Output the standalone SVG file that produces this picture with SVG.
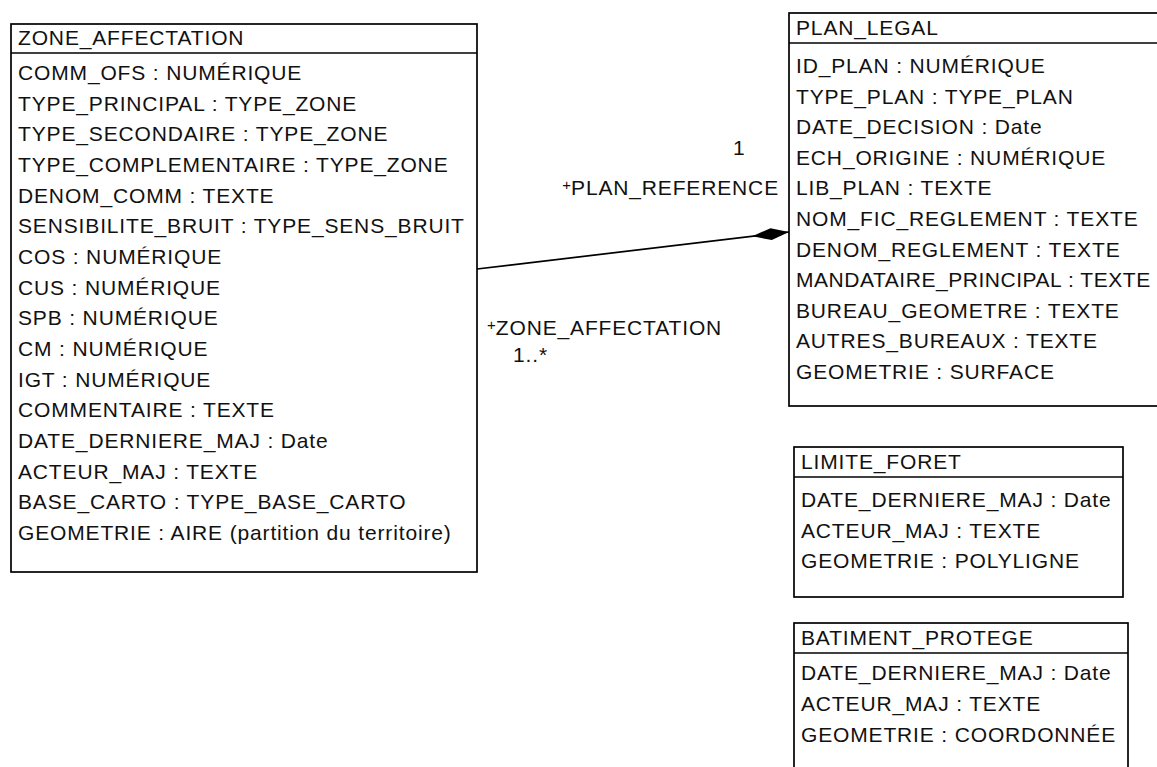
<svg xmlns="http://www.w3.org/2000/svg" width="1157" height="767" viewBox="0 0 1157 767">
<style>
.box{fill:#fff;stroke:#000;stroke-width:1.7}
.sep{stroke:#000;stroke-width:1.7}
text{font-family:"Liberation Sans",Arial,sans-serif;font-size:21px;letter-spacing:0.85px;fill:#111}
.plus{font-size:15px;letter-spacing:0}
.conn{stroke:#000;stroke-width:1.7;fill:none}
</style>
<defs>
<marker id="comp" markerUnits="userSpaceOnUse" markerWidth="44" markerHeight="20" viewBox="-40 -10 44 20" refX="0" refY="0" orient="auto">
<path d="M0,0 L-18,-6 L-37,0 L-18,6 Z" fill="#000"/>
</marker>
</defs>
<rect width="1157" height="767" fill="#fff"/>
<g id="zone_affectation">
<rect class="box" x="11" y="24" width="466" height="548"/>
<line class="sep" x1="11" y1="53" x2="477" y2="53"/>
<text x="18" y="45">ZONE_AFFECTATION</text>
<text x="18" y="80">COMM_OFS : NUMÉRIQUE</text>
<text x="18" y="110.7">TYPE_PRINCIPAL : TYPE_ZONE</text>
<text x="18" y="141.3">TYPE_SECONDAIRE : TYPE_ZONE</text>
<text x="18" y="172">TYPE_COMPLEMENTAIRE : TYPE_ZONE</text>
<text x="18" y="202.7">DENOM_COMM : TEXTE</text>
<text x="18" y="233.3">SENSIBILITE_BRUIT : TYPE_SENS_BRUIT</text>
<text x="18" y="264">COS : NUMÉRIQUE</text>
<text x="18" y="294.7">CUS : NUMÉRIQUE</text>
<text x="18" y="325.3">SPB : NUMÉRIQUE</text>
<text x="18" y="356">CM : NUMÉRIQUE</text>
<text x="18" y="386.7">IGT : NUMÉRIQUE</text>
<text x="18" y="417.3">COMMENTAIRE : TEXTE</text>
<text x="18" y="448">DATE_DERNIERE_MAJ : Date</text>
<text x="18" y="478.7">ACTEUR_MAJ : TEXTE</text>
<text x="18" y="509.3">BASE_CARTO : TYPE_BASE_CARTO</text>
<text x="18" y="540">GEOMETRIE : AIRE (partition du territoire)</text>
</g>
<g id="plan_legal">
<rect class="box" x="789" y="13" width="400" height="393"/>
<line class="sep" x1="789" y1="43" x2="1189" y2="43"/>
<text x="796" y="35">PLAN_LEGAL</text>
<text x="796" y="73">ID_PLAN : NUMÉRIQUE</text>
<text x="796" y="103.6">TYPE_PLAN : TYPE_PLAN</text>
<text x="796" y="134.2">DATE_DECISION : Date</text>
<text x="796" y="164.8">ECH_ORIGINE : NUMÉRIQUE</text>
<text x="796" y="195.4">LIB_PLAN : TEXTE</text>
<text x="796" y="226">NOM_FIC_REGLEMENT : TEXTE</text>
<text x="796" y="256.6">DENOM_REGLEMENT : TEXTE</text>
<text x="796" y="287.2" textLength="355" lengthAdjust="spacing">MANDATAIRE_PRINCIPAL : TEXTE</text>
<text x="796" y="317.8">BUREAU_GEOMETRE : TEXTE</text>
<text x="796" y="348.4">AUTRES_BUREAUX : TEXTE</text>
<text x="796" y="379">GEOMETRIE : SURFACE</text>
</g>
<g id="limite_foret">
<rect class="box" x="794" y="447" width="329" height="150"/>
<line class="sep" x1="794" y1="477" x2="1123" y2="477"/>
<text x="801" y="469">LIMITE_FORET</text>
<text x="801" y="507">DATE_DERNIERE_MAJ : Date</text>
<text x="801" y="537.5">ACTEUR_MAJ : TEXTE</text>
<text x="801" y="568">GEOMETRIE : POLYLIGNE</text>
</g>
<g id="batiment_protege">
<rect class="box" x="794" y="623" width="334" height="180"/>
<line class="sep" x1="794" y1="653" x2="1128" y2="653"/>
<text x="801" y="645">BATIMENT_PROTEGE</text>
<text x="801" y="680">DATE_DERNIERE_MAJ : Date</text>
<text x="801" y="711">ACTEUR_MAJ : TEXTE</text>
<text x="801" y="742">GEOMETRIE : COORDONNÉE</text>
</g>
<g id="connectors">
<path class="conn" d="M477,269 L789,232" marker-end="url(#comp)"/>
<text x="733" y="155">1</text>
<text x="779" y="195" text-anchor="end"><tspan class="plus" dy="-5">+</tspan><tspan dy="5">PLAN_REFERENCE</tspan></text>
<text x="487" y="335"><tspan class="plus" dy="-5">+</tspan><tspan dy="5">ZONE_AFFECTATION</tspan></text>
<text x="513" y="362">1..*</text>
</g>
</svg>
